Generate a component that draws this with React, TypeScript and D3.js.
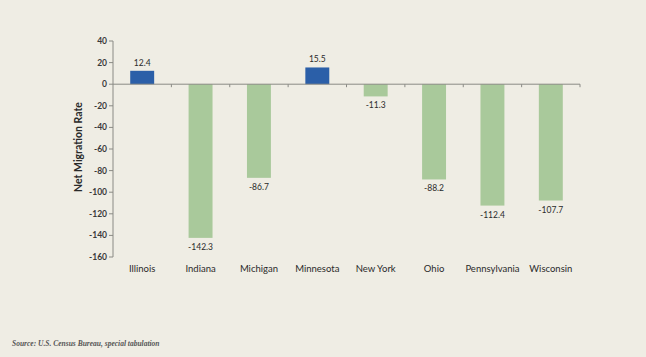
import React from "react";
import * as d3 from "d3";

const categories = ["Illinois", "Indiana", "Michigan", "Minnesota", "New York", "Ohio", "Pennsylvania", "Wisconsin"];
const values = [12.4, -142.3, -86.7, 15.5, -11.3, -88.2, -112.4, -107.7];
const yTicks = [40, 20, 0, -20, -40, -60, -80, -100, -120, -140, -160];

const W = 646, H = 357;
const left = 113, right = 580, top = 41, bottom = 257;
const font = "'Lato', 'Open Sans', sans-serif";

export default function App() {
  const x = d3.scaleBand<string>().domain(categories).range([left, right]).paddingInner(0.59).paddingOuter(0.295);
  const y = d3.scaleLinear().domain([-160, 40]).range([bottom, top]);
  const step = x.step();
  return (
    <svg width={W} height={H} style={{ position: "absolute", left: 0, top: 0, background: "#efede4" }}>
      <rect x={0} y={0} width={W} height={H} fill="#efede4" />
      {/* y axis */}
      <line x1={left} x2={left} y1={y(40)} y2={y(-160)} stroke="#8a8a85" strokeWidth={1} />
      {yTicks.map((t) => (
        <g key={t}>
          <line x1={left - 4} x2={left} y1={y(t)} y2={y(t)} stroke="#8a8a85" />
          <text x={left - 6} y={y(t)} dy="0.35em" textAnchor="end" fontSize={8.5} fontWeight={700} fill="#3a3a3a" fontFamily={font}>{t}</text>
        </g>
      ))}
      <text transform={`translate(82,147) rotate(-90)`} textAnchor="middle" fontSize={10.5} fontWeight={700} fill="#2a2a2a" fontFamily={font}>Net Migration Rate</text>
      {/* bars */}
      {categories.map((c, i) => {
        const v = values[i];
        const bx = x(c)!;
        const bw = x.bandwidth();
        const y0 = y(0), y1 = y(v);
        return (
          <g key={c}>
            <rect x={bx} y={Math.min(y0, y1)} width={bw} height={Math.abs(y1 - y0)} fill={v >= 0 ? "#2b5fa8" : "#a9c99b"} />
            <text x={bx + bw / 2} y={v >= 0 ? y1 - 5 : y1 + 12} textAnchor="middle" fontSize={8.5} fill="#2a2a2a" fontFamily={font}>{v.toFixed(1)}</text>
            <text x={bx + bw / 2} y={272} textAnchor="middle" fontSize={9.5} fill="#2a2a2a" fontFamily={font}>{c}</text>
          </g>
        );
      })}
      {/* x axis */}
      <line x1={left} x2={right} y1={y(0)} y2={y(0)} stroke="#8a8a85" strokeWidth={1} />
      {categories.map((c, i) => (
        <line key={c} x1={left + step * (i + 1)} x2={left + step * (i + 1)} y1={y(0)} y2={y(0) + 3} stroke="#8a8a85" />
      ))}
      <text x={12} y={346} fontSize={7.5} fontStyle="italic" fontWeight={700} fill="#555" fontFamily="'Liberation Serif', 'DejaVu Serif', serif">Source: U.S. Census Bureau, special tabulation</text>
    </svg>
  );
}
